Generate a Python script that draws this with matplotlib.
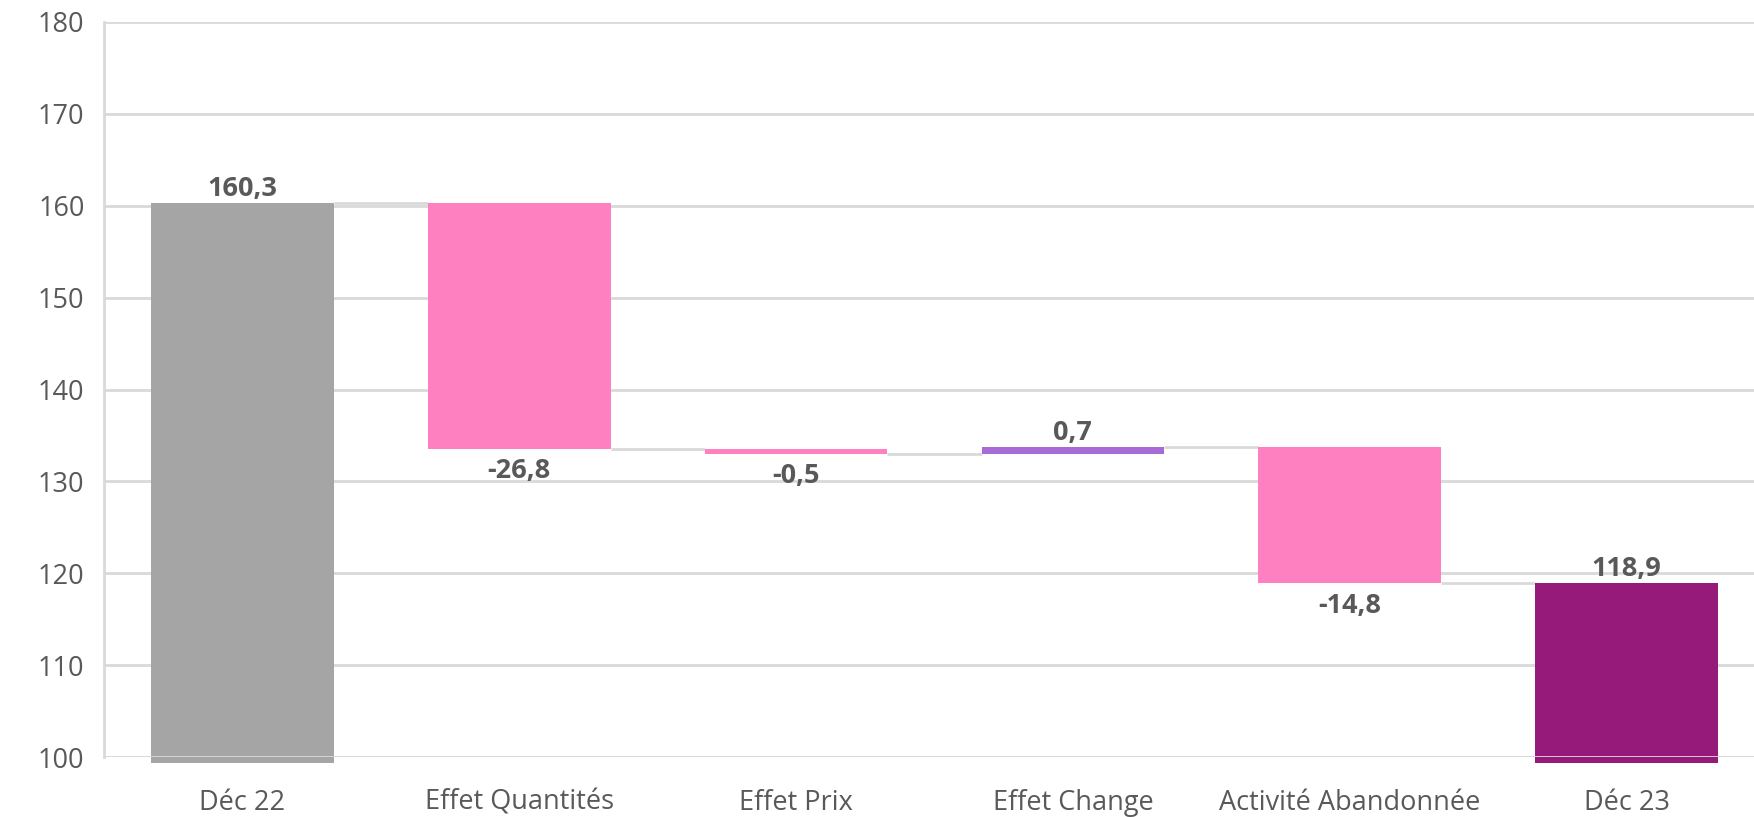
import matplotlib
matplotlib.use("Agg")
import matplotlib.pyplot as plt
import numpy as np

# data
categories = ["Déc 22", "Effet Quantités", "Effet Prix", "Effet Change",
              "Activité Abandonnée", "Déc 23"]
start_value = 160.3
deltas = [-26.8, -0.5, 0.7, -14.8]
end_value = 118.9
labels = ["160,3", "-26,8", "-0,5", "0,7", "-14,8", "118,9"]

GRID = "#d9d9d9"
TEXT = "#595959"
GRAY = "#a5a5a5"
PINK = "#ff80c0"
VIOLET = "#a66bd6"
PLUM = "#951a79"

plt.rcParams['font.family'] = ['Open Sans', 'DejaVu Sans']

fig = plt.figure(figsize=(17.54, 8.17), dpi=100)
ax = fig.add_axes([104 / 1754, 60 / 817, (1765 - 104) / 1754, (757 - 22) / 817])

YMIN, YMAX = 100, 180
WIDTH = 0.66
OVER = 0.65  # bars of totals stick out a bit below the axis

x = np.arange(len(categories))

# build waterfall levels
levels = [start_value]
for d in deltas:
    levels.append(levels[-1] + d)

# total bars
ax.bar(x[0], start_value - (YMIN - OVER), bottom=YMIN - OVER, width=WIDTH,
       color=GRAY, zorder=2, clip_on=False)
ax.bar(x[-1], end_value - (YMIN - OVER), bottom=YMIN - OVER, width=WIDTH,
       color=PLUM, zorder=2, clip_on=False)

# delta bars
for i, d in enumerate(deltas):
    lo = min(levels[i], levels[i + 1])
    col = VIOLET if d > 0 else PINK
    ax.bar(x[i + 1], abs(d), bottom=lo, width=WIDTH, color=col, zorder=2)

# connectors
for i in range(len(levels)):
    ax.plot([x[i] + WIDTH / 2, x[i + 1] - WIDTH / 2], [levels[i], levels[i]],
            color=GRID, lw=2, zorder=1, solid_capstyle='butt')

# value labels
fs = 19.5
ax.text(x[0], start_value + 0.15, labels[0], ha='center', va='bottom',
        fontsize=fs, fontweight='bold', color=TEXT)
for i, d in enumerate(deltas):
    if d < 0:
        ax.text(x[i + 1], levels[i + 1] - 1.0, labels[i + 1], ha='center', va='top',
                fontsize=fs, fontweight='bold', color=TEXT)
    else:
        ax.text(x[i + 1], levels[i + 1] + 0.2, labels[i + 1], ha='center', va='bottom',
                fontsize=fs, fontweight='bold', color=TEXT)
ax.text(x[-1], end_value + 0.15, labels[-1], ha='center', va='bottom',
        fontsize=fs, fontweight='bold', color=TEXT)

# axes styling
ax.set_xlim(-0.5, len(categories) - 0.5)
ax.set_ylim(YMIN, YMAX)
ax.set_yticks(np.arange(100, 181, 10))
ax.set_xticks(x)
ax.set_xticklabels(categories)
ax.tick_params(axis='both', length=0, labelsize=19.5, labelcolor=TEXT)
ax.tick_params(axis='x', pad=23)
ax.tick_params(axis='y', pad=14)
ax.yaxis.grid(True, color=GRID, lw=2)
ax.set_axisbelow(True)
ax.axhline(YMIN, color=GRID, lw=2, zorder=3)
for s in ['top', 'right', 'bottom']:
    ax.spines[s].set_visible(False)
ax.spines['left'].set_color(GRID)
ax.spines['left'].set_linewidth(2)

fig.savefig("out.png", dpi=100)
